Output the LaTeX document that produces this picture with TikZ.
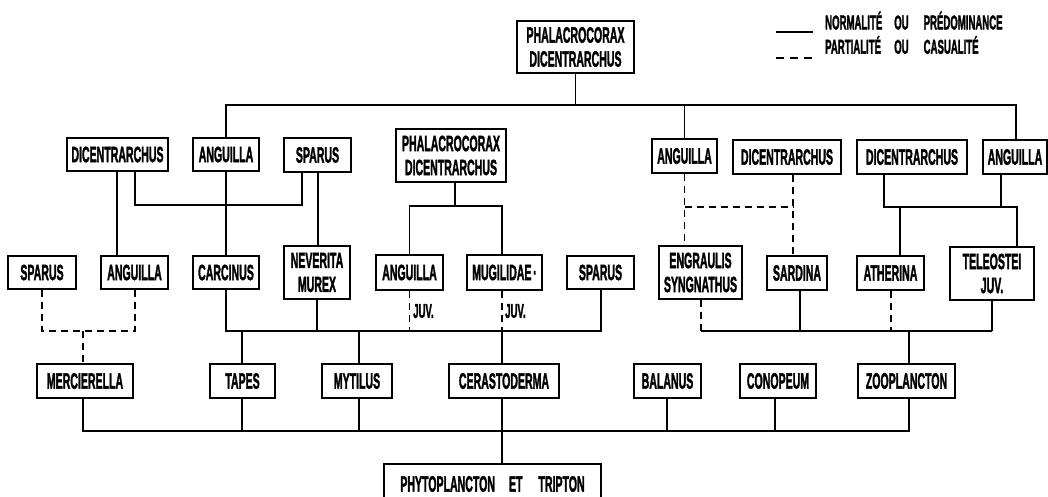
\documentclass[tikz,border=0pt]{standalone}
\usepackage{fontspec}
\usepackage{graphicx}
\newfontfamily\lab{Liberation Sans}[FakeBold=2.5]
\newcommand\cn[1]{\scalebox{0.48}[1]{#1}}
\tikzset{
  box/.style={draw, line width=1.5pt, inner sep=0pt, align=center,
    font=\lab\bfseries\fontsize{22}{24}\selectfont},
  conn/.style={line width=1.2pt},
  partial/.style={dash pattern=on 7pt off 5pt},
  juv/.style={inner sep=0pt, font=\lab\bfseries\fontsize{20}{21}\selectfont},
  legend/.style={inner sep=0pt, font=\lab\bfseries\fontsize{20}{22}\selectfont}
}
\begin{document}
\begin{tikzpicture}[x=1pt,y=-1pt]
\useasboundingbox (0,0) rectangle (1048,496);
% top
\node[box, minimum width=117, minimum height=52] (topP) at (575.5,47) {\cn{PHALACROCORAX}\\\cn{DICENTRARCHUS}};
% row 2
\node[box, minimum width=101, minimum height=33] (d1) at (117.5,154.5) {\cn{DICENTRARCHUS}};
\node[box, minimum width=66, minimum height=33] (a1) at (226,154.5) {\cn{ANGUILLA}};
\node[box, minimum width=67, minimum height=34] (s1) at (317.5,155) {\cn{SPARUS}};
\node[box, minimum width=110, minimum height=53] (pm) at (451,155.5) {\cn{PHALACROCORAX}\\\cn{DICENTRARCHUS}};
\node[box, minimum width=65, minimum height=34] (a2) at (684.5,156) {\cn{ANGUILLA}};
\node[box, minimum width=108, minimum height=34] (d2) at (787,157) {\cn{DICENTRARCHUS}};
\node[box, minimum width=110, minimum height=34] (d3) at (912,157) {\cn{DICENTRARCHUS}};
\node[box, minimum width=64, minimum height=34] (a3) at (1015,157) {\cn{ANGUILLA}};
% row 3
\node[box, minimum width=68, minimum height=33] (s2) at (42,272.5) {\cn{SPARUS}};
\node[box, minimum width=67, minimum height=33] (a4) at (134.5,272.5) {\cn{ANGUILLA}};
\node[box, minimum width=66, minimum height=33] (car) at (226,272.5) {\cn{CARCINUS}};
\node[box, minimum width=66, minimum height=53] (nev) at (317,272.5) {\cn{NEVERITA}\\\cn{MUREX}};
\node[box, minimum width=67, minimum height=35] (a5) at (409.5,272.5) {\cn{ANGUILLA}};
\node[box, minimum width=75, minimum height=35] (mug) at (504.5,272.5) {\cn{MUGILIDAE\,·}};
\node[box, minimum width=67, minimum height=33] (s3) at (600.5,272.5) {\cn{SPARUS}};
\node[box, minimum width=83, minimum height=53] (eng) at (700.5,272.5) {\cn{ENGRAULIS}\\\cn{SYNGNATHUS}};
\node[box, minimum width=60, minimum height=34] (sar) at (797,273) {\cn{SARDINA}};
\node[box, minimum width=67, minimum height=34] (ath) at (890.5,273) {\cn{ATHERINA}};
\node[box, minimum width=84, minimum height=53] (tel) at (992,273.5) {\cn{TELEOSTEI}\\\cn{JUV.}};
% row 4
\node[box, minimum width=96, minimum height=34] (mer) at (85,381) {\cn{MERCIERELLA}};
\node[box, minimum width=65, minimum height=34] (tap) at (242.5,381) {\cn{TAPES}};
\node[box, minimum width=70, minimum height=34] (myt) at (357,381) {\cn{MYTILUS}};
\node[box, minimum width=110, minimum height=34] (cer) at (504,381) {\cn{CERASTODERMA}};
\node[box, minimum width=67, minimum height=34] (bal) at (667.5,381) {\cn{BALANUS}};
\node[box, minimum width=76, minimum height=34] (con) at (778,381) {\cn{CONOPEUM}};
\node[box, minimum width=97, minimum height=34] (zoo) at (906.5,381) {\cn{ZOOPLANCTON}};
% bottom
\node[box, minimum width=217, minimum height=40] (phy) at (492.5,484) {\cn{PHYTOPLANCTON}\hspace{14pt}\cn{ET}\hspace{16pt}\cn{TRIPTON}};
% JUV labels
\node[juv, anchor=west] (j1) at (413,311) {\cn{JUV.}};
\node[juv, anchor=west] (j2) at (505,311) {\cn{JUV.}};
% legend
\coordinate (l1a) at (776,32);
\coordinate (l1b) at (813,32);
\coordinate (l2a) at (776,58);
\coordinate (l2b) at (813,58);
\draw[conn] (l1a) -- (l1b);
\draw[conn, dash pattern=on 8pt off 6pt] (l2a) -- (l2b);
\node[legend, anchor=west] (leg) at (825,36) {\begin{tabular}{@{}l@{\hspace{12pt}}l@{\hspace{15pt}}l@{}}\cn{NORMALITÉ} & \cn{OU} & \cn{PRÉDOMINANCE}\\ \cn{PARTIALITÉ} & \cn{OU} & \cn{CASUALITÉ}\end{tabular}};
% top connections
\draw[conn] (topP.south) -- (topP.south |- 0,105);
\draw[conn] (a1.north) -- (a1.north |- 0,105) -- (1016,105) -- (1016,0 |- a3.north);
\draw[conn] (a2.north) -- (a2.north |- 0,105);
% left group
\draw[conn] (117,0 |- d1.south) -- (117,0 |- a4.north);
\draw[conn] (135,0 |- d1.south) -- (135,205) -- (302,205) -- (302,0 |- s1.south);
\draw[conn] (318,0 |- s1.south) -- (318,0 |- nev.north);
\draw[conn] (a1.south) -- (car.north);
\draw[conn] (car.south) -- (car.south |- 0,331) -- (601,331) -- (601,0 |- s3.south);
\draw[conn] (nev.south) -- (nev.south |- 0,331);
\draw[conn] (242,331) -- (242,0 |- tap.north);
\draw[conn] (359,331) -- (359,0 |- myt.north);
% middle group
\draw[conn] (455,0 |- pm.south) -- (455,206);
\draw[conn] (a5.north) -- (a5.north |- 0,206) -- (502,206) -- (502,0 |- mug.north);
\draw[conn, partial] (a5.south) -- (a5.south |- 0,331);
\draw[conn, partial] (502,0 |- mug.south) -- (502,331);
\draw[conn] (502,331) -- (502,0 |- cer.north);
\draw[conn] (502,0 |- cer.south) -- (502,0 |- phy.north);
% left dashed
\draw[conn, partial] (s2.south) -- (s2.south |- 0,331) -- (135,331) -- (135,0 |- a4.south);
\draw[conn, partial] (83,331) -- (83,0 |- mer.north);
% bottom line
\draw[conn] (83,0 |- mer.south) -- (83,431) -- (909,431) -- (909,0 |- zoo.south);
\draw[conn] (242,0 |- tap.south) -- (242,431);
\draw[conn] (359,0 |- myt.south) -- (359,431);
\draw[conn] (667,0 |- bal.south) -- (667,431);
\draw[conn] (775,0 |- con.south) -- (775,431);
% right group
\draw[conn, partial] (a2.south) -- (a2.south |- eng.north);
\draw[conn, partial] (793,0 |- d2.south) -- (793,0 |- sar.north);
\draw[conn, partial] (a2.south |- 0,207) -- (793,207);
\draw[conn, partial] (701,0 |- eng.south) -- (701,331);
\draw[conn] (701,331) -- (992,331);
\draw[conn] (800,0 |- sar.south) -- (800,331);
\draw[conn, partial] (891,0 |- ath.south) -- (891,331);
\draw[conn] (tel.south) -- (tel.south |- 0,331);
\draw[conn] (909,331) -- (909,0 |- zoo.north);
\draw[conn] (884,0 |- d3.south) -- (884,207) -- (1017,207) -- (1017,0 |- tel.north);
\draw[conn] (1001,0 |- a3.south) -- (1001,207);
\draw[conn] (900,207) -- (900,0 |- ath.north);
\end{tikzpicture}
\end{document}
